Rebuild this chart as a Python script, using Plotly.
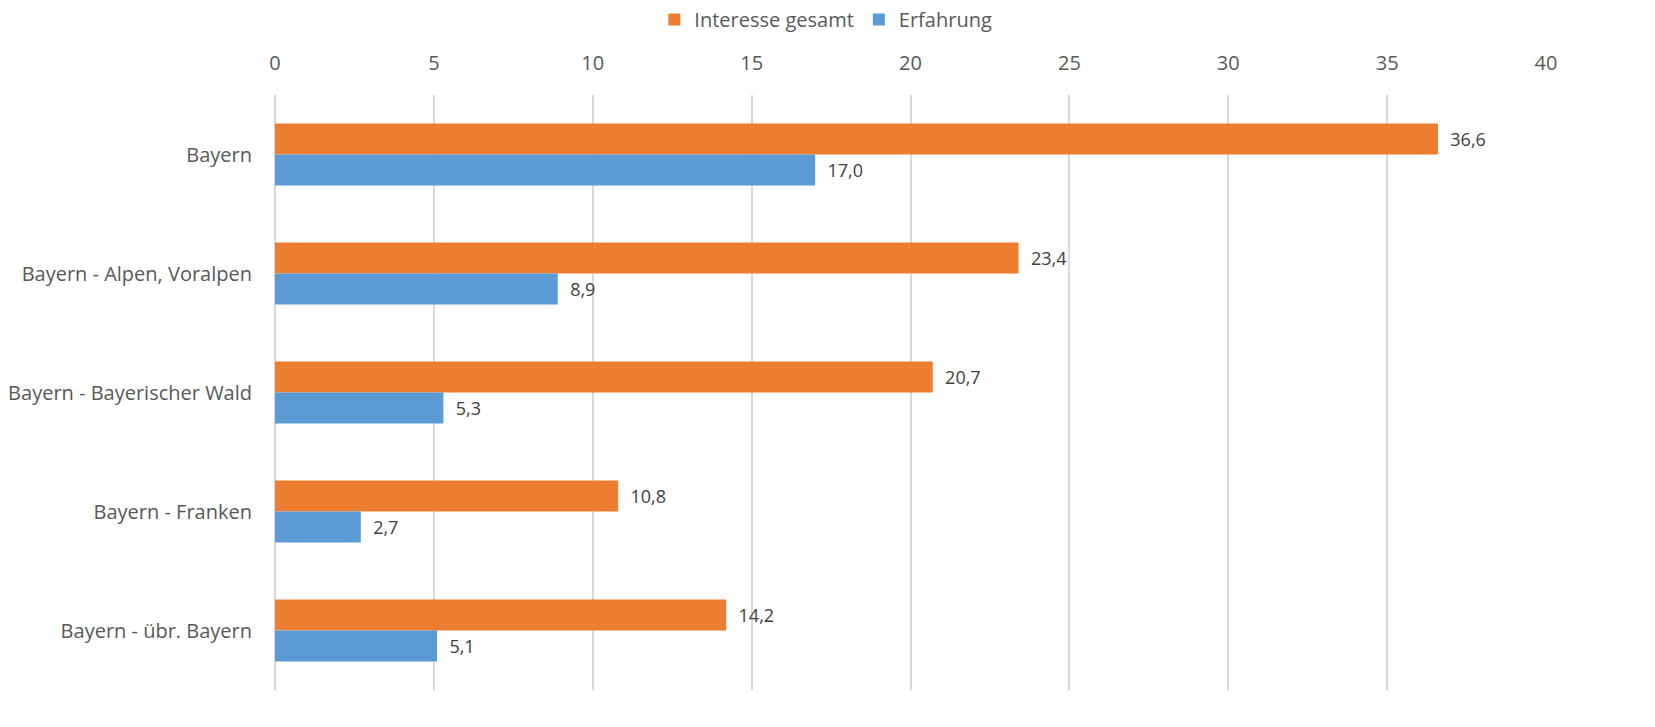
import plotly.graph_objects as go

categories = ["Bayern", "Bayern - Alpen, Voralpen", "Bayern - Bayerischer Wald", "Bayern - Franken", "Bayern - übr. Bayern"]
interesse = [36.6, 23.4, 20.7, 10.8, 14.2]
erfahrung = [17.0, 8.9, 5.3, 2.7, 5.1]
tick_vals = [0, 5, 10, 15, 20, 25, 30, 35, 40]

font_family = "Open Sans"
text_col = "#595959"
label_col = "#404040"

fig = go.Figure()
fig.add_trace(go.Bar(
    y=categories, x=interesse, orientation="h", name="Interesse gesamt",
    marker=dict(color="#ED7D31", line=dict(width=0)),
    texttemplate="\u00a0\u00a0%{x:.1f}", textposition="outside",
    textfont=dict(size=18, color=label_col, family=font_family), cliponaxis=False,
))
fig.add_trace(go.Bar(
    y=categories, x=erfahrung, orientation="h", name="Erfahrung",
    marker=dict(color="#5B9BD5", line=dict(width=0)),
    texttemplate="\u00a0\u00a0%{x:.1f}", textposition="outside",
    textfont=dict(size=18, color=label_col, family=font_family), cliponaxis=False,
))

fig.update_layout(
    width=1655, height=727,
    barmode="group", bargap=0.48, bargroupgap=0,
    separators=",.",
    plot_bgcolor="white", paper_bgcolor="white",
    margin=dict(l=275, r=109, t=95, b=37, autoexpand=False),
    font=dict(family=font_family, size=20, color=text_col),
    legend=dict(orientation="h", xref="container", yref="container",
                x=0.499, xanchor="center", y=1.0, yanchor="top",
                font=dict(size=20, color=text_col), traceorder="normal",
                itemwidth=30),
    xaxis=dict(side="top", range=[0, 40], tickvals=tick_vals, ticks="",
               showgrid=True, gridcolor="#D9D9D9", gridwidth=2,
               zeroline=True, zerolinecolor="#D9D9D9", zerolinewidth=2,
               showline=False, ticklabelstandoff=20,
               tickfont=dict(size=20, color=text_col)),
    yaxis=dict(autorange="reversed", showgrid=False, ticks="", ticklabelstandoff=22,
               tickfont=dict(size=20, color=text_col)),
)

fig.write_html("out.html", config={"displayModeBar": False},
               post_script="document.body.style.margin='0';")
